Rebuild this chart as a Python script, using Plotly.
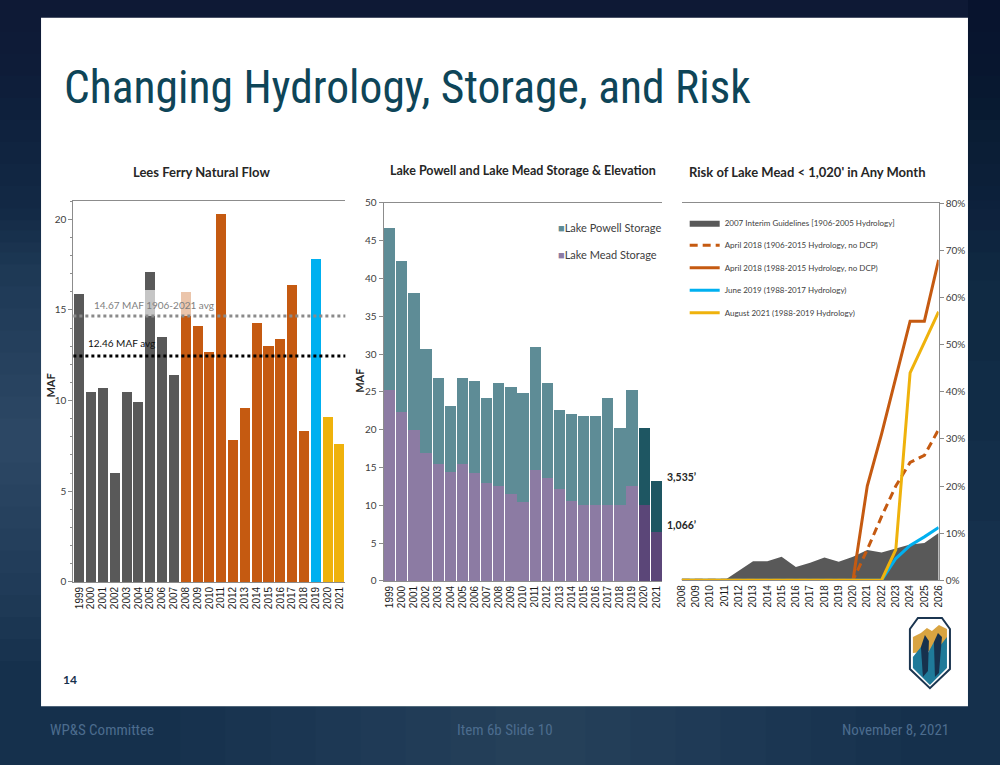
import plotly.graph_objects as go

# ---------------- Data ----------------
flow_years = [str(y) for y in range(1999, 2022)]
flow_maf = [15.9, 10.5, 10.7, 6.0, 10.5, 9.9, 17.1, 13.5, 11.4, 16.0, 14.1, 12.7,
            20.3, 7.8, 9.6, 14.3, 13.0, 13.4, 16.4, 8.3, 17.8, 9.1, 7.6]
flow_period = ["early"] * 9 + ["recent"] * 11 + ["wet2019"] + ["latest"] * 2
avg_long = 14.67
avg_recent = 12.46
avg_long_label = "14.67 MAF 1906-2021 avg"
avg_recent_label = "12.46 MAF avg"

storage_years = [str(y) for y in range(1999, 2022)]
mead_storage = [25.2, 22.4, 19.9, 16.9, 15.4, 14.4, 15.4, 14.3, 12.9, 12.5, 11.5, 10.4,
                14.7, 13.6, 12.2, 10.6, 10.1, 10.1, 10.1, 10.1, 12.6, 10.1, 6.5]
powell_storage = [21.5, 19.9, 18.2, 13.8, 11.5, 8.7, 11.5, 12.1, 11.3, 13.7, 14.2, 14.5,
                  16.2, 12.6, 10.4, 11.5, 11.7, 11.7, 14.1, 10.1, 12.6, 10.1, 6.7]
storage_status = ["past"] * 21 + ["recent"] * 2
elev_labels = ["3,535\u2019", "1,066\u2019"]

risk_years = list(range(2008, 2027))
risk_2007_ig = [0, 0, 0, 0, 2.0, 4.0, 4.0, 5.0, 2.8, 3.7, 4.8, 3.9, 5.0, 6.4, 5.9, 6.8, 7.6, 7.9, 10.0]
risk_apr18_full = [0, 0, 0, 0, 0, 0, 0, 0, 0, 0, 0, 0, 0, 6.5, 13.5, 20.0, 25.0, 26.5, 32.0]
risk_apr18_stress = [0, 0, 0, 0, 0, 0, 0, 0, 0, 0, 0, 0, 0, 20.0, 31.0, 43.0, 55.0, 55.0, 68.0]
risk_jun19 = [0, 0, 0, 0, 0, 0, 0, 0, 0, 0, 0, 0, 0, 0, 0, 4.6, 7.4, 9.2, 11.2]
risk_aug21 = [0, 0, 0, 0, 0, 0, 0, 0, 0, 0, 0, 0, 0, 0, 0, 6.5, 44.0, 50.5, 57.0]
risk_names = ["2007 Interim Guidelines [1906-2005 Hydrology]",
              "April 2018 (1906-2015 Hydrology, no DCP)",
              "April 2018 (1988-2015 Hydrology, no DCP)",
              "June 2019 (1988-2017 Hydrology)",
              "August 2021 (1988-2019 Hydrology)"]

# ---------------- Styles ----------------
W, H = 1000, 765
SX, SY = 0.988, 0.981   # compensation for the capture scaling about the page centre
def px(x):
    return (W / 2 + (x - W / 2) / SX) / W
def py(y):
    return 1 - (H / 2 + (y - H / 2) / SY) / H

GRAY = "#595959"
ORANGE = "#C55A11"
BLUE = "#00B0F0"
GOLD = "#EFB20C"
flow_colors = {"early": GRAY, "recent": ORANGE, "wet2019": BLUE, "latest": GOLD}
powell_colors = {"past": "#5E8C96", "recent": "#1E5662"}
mead_colors = {"past": "#8C7BA3", "recent": "#5B4678"}
AXC = "#8C8C8C"
TXT = "#262626"
FONT = "Lato, Open Sans, sans-serif"
NARROW = "Roboto Condensed, DejaVu Sans Condensed, Lato, sans-serif"

fig = go.Figure()

# Left: Lees Ferry natural flow
fig.add_trace(go.Bar(x=flow_years, y=flow_maf, width=0.85,
                     marker=dict(color=[flow_colors[p] for p in flow_period], line_width=0),
                     xaxis="x", yaxis="y", showlegend=False, hoverinfo="x+y"))

# Middle: storage stacked
fig.add_trace(go.Bar(x=storage_years, y=mead_storage, width=0.93, name="Lake Mead Storage",
                     marker=dict(color=[mead_colors[s] for s in storage_status], line_width=0),
                     xaxis="x2", yaxis="y2", showlegend=False))
fig.add_trace(go.Bar(x=storage_years, y=powell_storage, width=0.93, name="Lake Powell Storage",
                     marker=dict(color=[powell_colors[s] for s in storage_status], line_width=0),
                     xaxis="x2", yaxis="y2", showlegend=False))

# Right: risk
fig.add_trace(go.Scatter(x=risk_years, y=risk_2007_ig, name=risk_names[0], mode="lines",
                         fill="tozeroy", fillcolor=GRAY, line=dict(color=GRAY, width=0),
                         xaxis="x3", yaxis="y3", legendgroup="a"))
fig.add_trace(go.Scatter(x=risk_years, y=risk_apr18_full, name=risk_names[1], mode="lines",
                         line=dict(color=ORANGE, width=3, dash="8px,5px"),
                         xaxis="x3", yaxis="y3", legendgroup="b"))
fig.add_trace(go.Scatter(x=risk_years, y=risk_apr18_stress, name=risk_names[2], mode="lines",
                         line=dict(color=ORANGE, width=3),
                         xaxis="x3", yaxis="y3", legendgroup="c"))
fig.add_trace(go.Scatter(x=risk_years, y=risk_jun19, name=risk_names[3], mode="lines",
                         line=dict(color=BLUE, width=3),
                         xaxis="x3", yaxis="y3", legendgroup="d"))
fig.add_trace(go.Scatter(x=risk_years, y=risk_aug21, name=risk_names[4], mode="lines",
                         line=dict(color=GOLD, width=3),
                         xaxis="x3", yaxis="y3", legendgroup="e"))

tickfont_x = dict(family="Liberation Sans, Arial, sans-serif", size=10, color="#1a1a1a")
tickfont_y = dict(family=FONT, size=10, color="#404040")

common_x = dict(showline=True, linecolor=AXC, linewidth=1, mirror=True, ticks="",
                showgrid=False, zeroline=False, tickangle=-90, tickfont=tickfont_x, fixedrange=True)
common_y = dict(showline=True, linecolor=AXC, linewidth=1, ticks="outside", ticklen=4,
                tickcolor=AXC, showgrid=False, zeroline=False, tickfont=tickfont_y, fixedrange=True)

fig.update_layout(
    width=W, height=H, margin=dict(l=0, r=0, t=0, b=0),
    paper_bgcolor="#15304C", plot_bgcolor="rgba(0,0,0,0)",
    barmode="stack",
    font=dict(family=FONT, color=TXT),
    xaxis=dict(common_x, domain=[px(73.3), px(345)], anchor="y", type="category", range=[-0.5, 22.5],
               tickmode="array", tickvals=flow_years, ticktext=flow_years),
    yaxis=dict(common_y, domain=[py(581), py(201)], anchor="x", range=[0, 21],
               tickvals=[0, 5, 10, 15, 20],
               minor=dict(dtick=1, ticks="outside", ticklen=2, tickcolor=AXC)),
    xaxis2=dict(common_x, domain=[px(383.3), px(661.7)], anchor="y2", type="category", range=[-0.5, 22.5],
                tickmode="array", tickvals=storage_years, ticktext=storage_years),
    yaxis2=dict(common_y, domain=[py(580), py(202.7)], anchor="x2", range=[0, 50], dtick=5),
    xaxis3=dict(common_x, domain=[px(681), px(937.7)], anchor="y3", range=[2008, 2026],
                tickmode="array", tickvals=risk_years, ticktext=[str(y) for y in risk_years]),
    yaxis3=dict(common_y, domain=[py(579.3), py(203.3)], anchor="x3", side="right",
                range=[0, 80], dtick=10, ticksuffix="%"),
    legend=dict(x=px(684), y=py(208), xanchor="left", yanchor="top",
                bgcolor="rgba(0,0,0,0)", font=dict(family=FONT, size=8, color="#404040"),
                tracegroupgap=3.5, itemwidth=30, traceorder="grouped"),
)

shapes = []
# background tone variations (slide backdrop), built from soft overlapping bands
def bg(x0, y0, x1, y1, color):
    shapes.append(dict(type="rect", xref="paper", yref="paper", x0=px(x0), x1=px(x1),
                       y0=py(y1), y1=py(y0), fillcolor=color, line_width=0, layer="below"))
for i in range(12):
    bg(-20, -20, 1020, 10 + i * 22, "rgba(8,20,38,0.07)")
for i in range(10):
    bg(-20, 440 - 22 * (i + 1), 41, 440 + 22 * (i + 1), "rgba(120,150,180,0.035)")
for i in range(8):
    bg(540 - 45 * (i + 1), 705, 540 + 45 * (i + 1), 785, "rgba(120,150,180,0.025)")
for i in range(6):
    bg(967, -20, 1020, 120 + 80 * i, "rgba(8,20,38,0.06)")
# slide panel
bg(41, 18, 967, 705, "white")
# translucent label box over bars
shapes.append(dict(type="rect", xref="x", yref="y", x0=5.55, x1=9.5, y0=avg_long, y1=16.1,
                   fillcolor="rgba(255,255,255,0.65)", line_width=0, layer="above"))
# average lines
shapes.append(dict(type="line", xref="x domain", yref="y", x0=0, x1=1, y0=avg_long, y1=avg_long,
                   line=dict(color="#8A8A8A", width=3, dash="dot")))
shapes.append(dict(type="line", xref="x domain", yref="y", x0=0, x1=1, y0=avg_recent, y1=avg_recent,
                   line=dict(color="#000000", width=3, dash="dot")))

# Reclamation logo (decorative)
def path(points):
    return "M " + " L ".join(f"{px(x):.5f},{py(y):.5f}" for x, y in points) + " Z"
shapes.append(dict(type="path", xref="paper", yref="paper",
                   path=path([(909, 628), (917, 617), (941, 617), (949, 628), (949, 668), (929, 687), (909, 668)]),
                   fillcolor="white", line=dict(color="#1B3550", width=2)))
shapes.append(dict(type="path", xref="paper", yref="paper",
                   path=path([(912, 652), (912, 636), (920, 632), (926, 627), (931, 630), (938, 624), (946, 628), (946, 648)]),
                   fillcolor="#D9A441", line_width=0))
shapes.append(dict(type="path", xref="paper", yref="paper",
                   path=path([(912, 656), (920, 646), (927, 652), (933, 641), (939, 645), (946, 636), (946, 667), (929, 684), (912, 667)]),
                   fillcolor="#1F7A99", line_width=0))
shapes.append(dict(type="path", xref="paper", yref="paper",
                   path=path([(920, 646), (924, 634), (928, 640), (927, 670), (922, 676)]),
                   fillcolor="#17314D", line_width=0))
shapes.append(dict(type="path", xref="paper", yref="paper",
                   path=path([(933, 641), (937, 632), (941, 636), (938, 672), (934, 676)]),
                   fillcolor="#17314D", line_width=0))
fig.update_layout(shapes=shapes)

ann = []
def A(x, y, text, size=11, color=TXT, family=FONT, xanchor="center", yanchor="middle", angle=0, bold=False):
    ann.append(dict(x=px(x), y=py(y), xref="paper", yref="paper", text=f"<b>{text}</b>" if bold else text,
                    showarrow=False, xanchor=xanchor, yanchor=yanchor, textangle=angle,
                    font=dict(size=size, color=color, family=family)))

A(62, 88, "Changing Hydrology, Storage, and Risk", size=45.5, color="#0E4558", family=NARROW, xanchor="left")
A(201, 172, "Lees Ferry Natural Flow", size=13, bold=True)
A(522, 170, "Lake Powell and Lake Mead Storage &amp; Elevation", size=12.5, bold=True)
A(806, 172, "Risk of Lake Mead &lt; 1,020' in Any Month", size=13, bold=True)
A(50, 385, "MAF", size=11, bold=True, angle=-90)
A(359, 380, "MAF", size=11, bold=True, angle=-90)
A(92, 305, avg_long_label, size=10, color="#7F7F7F", xanchor="left")
A(86, 343, avg_recent_label, size=10, color="#111111", xanchor="left")
A(555, 227, f"<span style='color:{powell_colors['past']}'>\u25A0</span>Lake Powell Storage", size=11, color="#404040", xanchor="left")
A(555, 254, f"<span style='color:{mead_colors['past']}'>\u25A0</span>Lake Mead Storage", size=11, color="#404040", xanchor="left")
A(664, 476, elev_labels[0], size=10.5, bold=True, xanchor="left")
A(664, 524, elev_labels[1], size=10.5, bold=True, xanchor="left")
A(61, 678, "14", size=12, color="#17314D", bold=True, xanchor="left")
FOOT = "#4C6C8E"
A(48, 729, "WP&amp;S Committee", size=15, color=FOOT, family=NARROW, xanchor="left")
A(504, 729, "Item 6b Slide 10", size=15, color=FOOT, family=NARROW)
A(950, 729, "November 8, 2021", size=15, color=FOOT, family=NARROW, xanchor="right")
fig.update_layout(annotations=ann)

fig.write_html("out.html", config={"displayModeBar": False},
               post_script="document.body.style.margin='0';document.body.style.overflow='hidden';")
